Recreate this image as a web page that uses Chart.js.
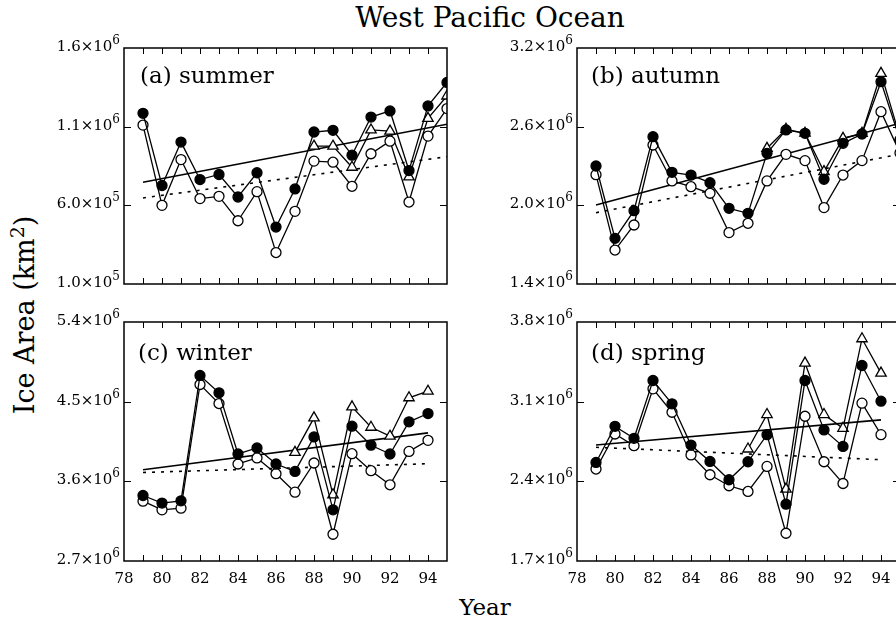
<!DOCTYPE html>
<html lang="en">
<head>
    <meta charset="UTF-8">
    <title>West Pacific Ocean - Ice Area</title>
    <script src="https://cdn.jsdelivr.net/npm/chart.js"></script>
    <style>
        body {
            margin: 0;
            padding: 0;
            background: #fff;
        }
        #wrap {
            position: relative;
            width: 896px;
            height: 621px;
            overflow: hidden;
            background: #fff;
            font-family: "DejaVu Serif", serif;
            color: #000;
        }
        #wrap canvas {
            position: absolute;
        }
        .txt {
            position: absolute;
            white-space: nowrap;
            line-height: 1;
        }
        .title {
            left: 0;
            width: 980px;
            top: 4px;
            text-align: center;
            font-size: 28px;
        }
        .panel-label {
            font-size: 23px;
        }
        .xtitle {
            left: 0;
            width: 970px;
            top: 596px;
            text-align: center;
            font-size: 23px;
        }
        .ytitle {
            left: 24px;
            top: 315px;
            font-size: 27px;
            transform: translate(-50%, -50%) rotate(-90deg);
        }
        .ytitle sup {
            font-size: 19px;
            line-height: 0;
        }
    </style>
</head>
<body>
<div id="wrap">
    <div class="txt title">West Pacific Ocean</div>
    <canvas id="chartA" width="420" height="264" style="left:40px; top:30px;"></canvas>
    <canvas id="chartB" width="420" height="264" style="left:493px; top:30px;"></canvas>
    <canvas id="chartC" width="420" height="287" style="left:40px; top:304px;"></canvas>
    <canvas id="chartD" width="420" height="287" style="left:493px; top:304px;"></canvas>
    <div class="txt panel-label" style="left:140px; top:64px;">(a) summer</div>
    <div class="txt panel-label" style="left:591px; top:64px;">(b) autumn</div>
    <div class="txt panel-label" style="left:138px; top:341px;">(c) winter</div>
    <div class="txt panel-label" style="left:591px; top:341px;">(d) spring</div>
    <div class="txt xtitle">Year</div>
    <div class="txt ytitle">Ice Area (km<sup>2</sup>)</div>
</div>

<script>
    // years
    const yearsLong = [79, 80, 81, 82, 83, 84, 85, 86, 87, 88, 89, 90, 91, 92, 93, 94, 95];
    const yearsShort = [79, 80, 81, 82, 83, 84, 85, 86, 87, 88, 89, 90, 91, 92, 93, 94];
    const triYearsLong = [88, 89, 90, 91, 92, 93, 94, 95];
    const triYearsShort = [87, 88, 89, 90, 91, 92, 93, 94];
    const xLabelYears = [78, 80, 82, 84, 86, 88, 90, 92, 94];

    // (a) summer, ice area km^2
    const summerFilled = [1.185e6, 0.726e6, 1.002e6, 0.764e6, 0.796e6, 0.653e6, 0.807e6, 0.462e6, 0.704e6, 1.066e6, 1.077e6, 0.919e6, 1.161e6, 1.200e6, 0.821e6, 1.232e6, 1.381e6];
    const summerOpen = [1.110e6, 0.600e6, 0.891e6, 0.643e6, 0.657e6, 0.502e6, 0.687e6, 0.300e6, 0.562e6, 0.881e6, 0.874e6, 0.721e6, 0.928e6, 1.008e6, 0.621e6, 1.040e6, 1.215e6];
    const summerTri = [0.976e6, 0.976e6, 0.842e6, 1.079e6, 1.072e6, 0.781e6, 1.153e6, 1.295e6];
    const summerTrend = [0.747e6, 1.115e6];
    const summerTrendDot = [0.647e6, 0.909e6];
    const summerTicks = [0.1e6, 0.6e6, 1.1e6, 1.6e6];

    // (b) autumn
    const autumnFilled = [2.300e6, 1.748e6, 1.959e6, 2.524e6, 2.252e6, 2.231e6, 2.173e6, 1.977e6, 1.939e6, 2.397e6, 2.575e6, 2.549e6, 2.199e6, 2.473e6, 2.544e6, 2.943e6, 2.500e6];
    const autumnOpen = [2.234e6, 1.659e6, 1.850e6, 2.460e6, 2.186e6, 2.142e6, 2.092e6, 1.792e6, 1.863e6, 2.186e6, 2.389e6, 2.341e6, 1.983e6, 2.231e6, 2.341e6, 2.714e6, 2.400e6];
    const autumnTri = [2.435e6, 2.580e6, 2.550e6, 2.257e6, 2.511e6, 2.549e6, 3.007e6, 2.520e6];
    const autumnTrend = [2.002e6, 2.626e6];
    const autumnTrendDot = [1.944e6, 2.390e6];
    const autumnTicks = [1.4e6, 2.0e6, 2.6e6, 3.2e6];

    // (c) winter
    const winterFilled = [3.440e6, 3.354e6, 3.380e6, 4.796e6, 4.600e6, 3.909e6, 3.977e6, 3.796e6, 3.712e6, 4.102e6, 3.278e6, 4.223e6, 4.008e6, 3.909e6, 4.272e6, 4.366e6];
    const winterOpen = [3.376e6, 3.278e6, 3.297e6, 4.694e6, 4.479e6, 3.796e6, 3.864e6, 3.686e6, 3.478e6, 3.807e6, 3.002e6, 3.912e6, 3.720e6, 3.561e6, 3.938e6, 4.063e6];
    const winterTri = [3.927e6, 4.317e6, 3.448e6, 4.441e6, 4.211e6, 4.110e6, 4.544e6, 4.618e6];
    const winterTrend = [3.731e6, 4.147e6];
    const winterTrendDot = [3.700e6, 3.799e6];
    const winterTicks = [2.7e6, 3.6e6, 4.5e6, 5.4e6];

    // (d) spring
    const springFilled = [2.566e6, 2.883e6, 2.778e6, 3.286e6, 3.081e6, 2.719e6, 2.575e6, 2.414e6, 2.572e6, 2.810e6, 2.199e6, 3.286e6, 2.852e6, 2.707e6, 3.418e6, 3.104e6];
    const springOpen = [2.508e6, 2.816e6, 2.713e6, 3.213e6, 3.007e6, 2.632e6, 2.458e6, 2.361e6, 2.311e6, 2.531e6, 1.944e6, 2.972e6, 2.572e6, 2.381e6, 3.087e6, 2.810e6];
    const springTri = [2.684e6, 2.987e6, 2.332e6, 3.439e6, 2.987e6, 2.866e6, 3.653e6, 3.351e6];
    const springTrend = [2.719e6, 2.940e6];
    const springTrendDot = [2.699e6, 2.590e6];
    const springTicks = [1.7e6, 2.4e6, 3.1e6, 3.8e6];

    const FONT = '"DejaVu Serif", serif';

    function sciParts(v) {
        const e = Math.floor(Math.log10(v) + 1e-9);
        const m = (v / Math.pow(10, e)).toFixed(1);
        return { main: m + '×10', exp: String(e) };
    }

    function pairs(xs, ys) {
        return xs.map((x, i) => ({ x: x, y: ys[i] }));
    }

    // box around plot area, inward ticks on all sides, y labels with raised exponent
    const framePlugin = {
        id: 'frame',
        afterDraw(chart) {
            const ctx = chart.ctx;
            const a = chart.chartArea;
            const xs = chart.scales.x;
            const ys = chart.scales.y;
            const yTicks = chart.options.plugins.frame.yTicks;
            ctx.save();
            ctx.strokeStyle = '#000';
            ctx.lineWidth = 1.5;
            ctx.strokeRect(a.left, a.top, a.right - a.left, a.bottom - a.top);
            ctx.lineWidth = 1;
            ctx.beginPath();
            for (let yr = 79; yr <= 94; yr++) {
                const px = Math.round(xs.getPixelForValue(yr)) + 0.5;
                ctx.moveTo(px, a.bottom);
                ctx.lineTo(px, a.bottom - 6);
                ctx.moveTo(px, a.top);
                ctx.lineTo(px, a.top + 6);
            }
            yTicks.slice(1, -1).forEach(v => {
                const py = Math.round(ys.getPixelForValue(v)) + 0.5;
                ctx.moveTo(a.left, py);
                ctx.lineTo(a.left + 7, py);
                ctx.moveTo(a.right, py);
                ctx.lineTo(a.right - 7, py);
            });
            ctx.stroke();

            ctx.fillStyle = '#000';
            ctx.textAlign = 'right';
            ctx.textBaseline = 'middle';
            yTicks.forEach(v => {
                const py = ys.getPixelForValue(v);
                const p = sciParts(v);
                ctx.font = '12px ' + FONT;
                const ew = ctx.measureText(p.exp).width;
                ctx.fillText(p.exp, a.left - 4, py - 7);
                ctx.font = '15px ' + FONT;
                ctx.fillText(p.main, a.left - 4 - ew, py - 1);
            });
            ctx.restore();
        }
    };

    function createPanel(id, d) {
        const ctx = document.getElementById(id).getContext('2d');
        const lastYear = d.years[d.years.length - 1];

        new Chart(ctx, {
            type: 'line',
            data: {
                datasets: [
                    {
                        data: pairs(d.years, d.filled),
                        borderColor: '#000',
                        backgroundColor: '#000',
                        borderWidth: 1.3,
                        pointRadius: 5,
                        pointBorderWidth: 1.3,
                        pointBackgroundColor: '#000'
                    },
                    {
                        data: pairs(d.years, d.open),
                        borderColor: '#000',
                        borderWidth: 1.3,
                        pointRadius: 5,
                        pointBorderWidth: 1.3,
                        pointBackgroundColor: '#fff'
                    },
                    {
                        data: pairs(d.triYears, d.tri),
                        borderColor: '#000',
                        borderWidth: 1.3,
                        pointStyle: 'triangle',
                        pointRadius: 6,
                        pointBorderWidth: 1.3,
                        pointBackgroundColor: '#fff'
                    },
                    {
                        data: pairs([79, lastYear], d.trend),
                        borderColor: '#000',
                        borderWidth: 1.6,
                        pointRadius: 0
                    },
                    {
                        data: pairs([79, lastYear], d.trendDot),
                        borderColor: '#000',
                        borderWidth: 1.6,
                        borderDash: [3, 6],
                        pointRadius: 0
                    }
                ]
            },
            options: {
                responsive: false,
                animation: false,
                events: [],
                layout: {
                    padding: { top: 18, right: 13, bottom: 0, left: 0 }
                },
                elements: {
                    line: { tension: 0, fill: false }
                },
                plugins: {
                    legend: { display: false },
                    tooltip: { enabled: false },
                    frame: { yTicks: d.yTicks }
                },
                scales: {
                    x: {
                        type: 'linear',
                        min: 78,
                        max: 95,
                        grid: { display: false, drawTicks: false },
                        border: { display: false },
                        ticks: {
                            display: d.showX,
                            padding: 9,
                            color: '#000',
                            font: { family: FONT, size: 15 },
                            maxRotation: 0,
                            autoSkip: false,
                            callback: v => String(v)
                        },
                        afterBuildTicks: axis => {
                            axis.ticks = xLabelYears.map(v => ({ value: v }));
                        },
                        afterFit: axis => {
                            axis.height = d.showX ? 30 : 10;
                        }
                    },
                    y: {
                        min: d.yTicks[0],
                        max: d.yTicks[d.yTicks.length - 1],
                        grid: { display: false, drawTicks: false },
                        border: { display: false },
                        ticks: { display: false },
                        afterBuildTicks: axis => {
                            axis.ticks = d.yTicks.map(v => ({ value: v }));
                        },
                        afterFit: axis => {
                            axis.width = 84;
                        }
                    }
                }
            },
            plugins: [framePlugin]
        });
    }

    createPanel('chartA', {
        years: yearsLong, filled: summerFilled, open: summerOpen,
        triYears: triYearsLong, tri: summerTri,
        trend: summerTrend, trendDot: summerTrendDot,
        yTicks: summerTicks, showX: false
    });
    createPanel('chartB', {
        years: yearsLong, filled: autumnFilled, open: autumnOpen,
        triYears: triYearsLong, tri: autumnTri,
        trend: autumnTrend, trendDot: autumnTrendDot,
        yTicks: autumnTicks, showX: false
    });
    createPanel('chartC', {
        years: yearsShort, filled: winterFilled, open: winterOpen,
        triYears: triYearsShort, tri: winterTri,
        trend: winterTrend, trendDot: winterTrendDot,
        yTicks: winterTicks, showX: true
    });
    createPanel('chartD', {
        years: yearsShort, filled: springFilled, open: springOpen,
        triYears: triYearsShort, tri: springTri,
        trend: springTrend, trendDot: springTrendDot,
        yTicks: springTicks, showX: true
    });
</script>
</body>
</html>
